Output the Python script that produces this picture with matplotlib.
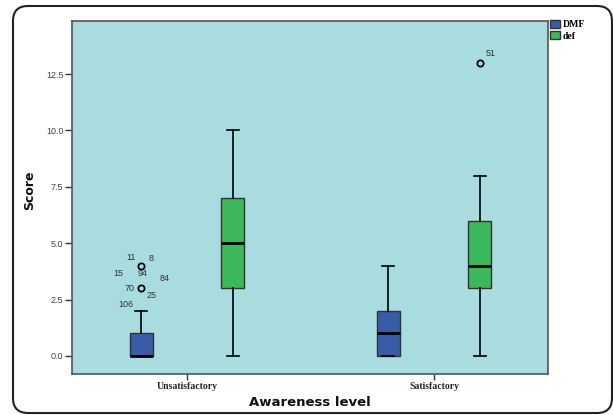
import matplotlib
matplotlib.use("Agg")
import matplotlib.pyplot as plt
from matplotlib.patches import Patch, FancyBboxPatch
from matplotlib.transforms import IdentityTransform

# ---- data ----
categories = ["Unsatisfactory", "Satisfactory"]
series = ["DMF", "def"]
# per series, per category
dmf_whislo = [0, 0]
dmf_q1 = [0, 0]
dmf_med = [0, 1]
dmf_q3 = [1, 2]
dmf_whishi = [2, 4]
dmf_outliers = [[4, 3], []]

def_whislo = [0, 0]
def_q1 = [3, 3]
def_med = [5, 4]
def_q3 = [7, 6]
def_whishi = [10, 8]
def_outliers = [[], [13]]

# outlier case labels: (series, category index, value, label)
outlier_labels = [
    ("DMF", 0, 4, "11"), ("DMF", 0, 4, "8"), ("DMF", 0, 4, "15"),
    ("DMF", 0, 4, "94"), ("DMF", 0, 4, "84"),
    ("DMF", 0, 3, "70"), ("DMF", 0, 3, "25"), ("DMF", 0, 3, "106"),
    ("def", 1, 13, "51"),
]
yticks = [0.0, 2.5, 5.0, 7.5, 10.0, 12.5]

# ---- style ----
bg = "#a8dcdf"
colors = {"DMF": "#3a5ca8", "def": "#3cb85a"}
offset = 0.186
bw = 0.093

fig = plt.figure(figsize=(6.13, 4.15), dpi=100)
ax = fig.add_axes([0.117, 0.0988, 0.777, 0.851])
ax.set_facecolor(bg)

def stats(lo, q1, med, q3, hi, fl):
    return [dict(whislo=a, q1=b, med=c, q3=d, whishi=e, fliers=f)
            for a, b, c, d, e, f in zip(lo, q1, med, q3, hi, fl)]

groups = {
    "DMF": stats(dmf_whislo, dmf_q1, dmf_med, dmf_q3, dmf_whishi, dmf_outliers),
    "def": stats(def_whislo, def_q1, def_med, def_q3, def_whishi, def_outliers),
}
base = list(range(1, len(categories) + 1))
sign = {"DMF": -1, "def": 1}
for s in series:
    pos = [b + sign[s] * offset for b in base]
    ax.bxp(groups[s], positions=pos, widths=bw, patch_artist=True,
           showfliers=True, manage_ticks=False,
           boxprops=dict(facecolor=colors[s], edgecolor="#333333", linewidth=1.0),
           medianprops=dict(color="black", linewidth=2.0),
           whiskerprops=dict(color="black", linewidth=1.2),
           capprops=dict(color="black", linewidth=1.2),
           flierprops=dict(marker="o", markerfacecolor="none",
                           markeredgecolor="black", markersize=4.5,
                           markeredgewidth=1.3))

# label offsets in pixels (dx, dy) relative to the outlier circle
label_offsets = {
    "11": (-10.5, 8), "8": (10, 7.5), "15": (-22.5, -7.7), "94": (2, -8),
    "84": (23.5, -13), "70": (-11.5, 0), "25": (10, -7), "106": (-15.5, -16.5),
    "51": (10.7, 9),
}
for s, ci, val, lab in outlier_labels:
    dx, dy = label_offsets[lab]
    ax.annotate(lab, xy=(base[ci] + sign[s] * offset, val),
                xytext=(dx * 0.72, dy * 0.72), textcoords="offset points",
                ha="center", va="center", fontsize=6.5, color="#333333",
                family="Liberation Sans")

ax.set_xlim(0.533, 2.462)
ax.set_ylim(-0.8, 14.86)
ax.set_xticks(base)
ax.set_xticklabels(categories, family="Liberation Serif", fontweight="bold",
                   fontsize=7, color="#222222")
ax.set_yticks(yticks)
ax.set_yticklabels([f"{v:.1f}" for v in yticks], family="Liberation Sans",
                   fontsize=6.5, color="#444444")
ax.tick_params(axis="y", length=5, width=1, color="#333333", pad=1)
ax.tick_params(axis="x", length=4, width=1, color="#333333", pad=2)
for sp in ax.spines.values():
    sp.set_color("#555555")
    sp.set_linewidth(1.2)

fig.text(30 / 613, 1 - 190 / 415, "Score", rotation=90, ha="center",
         va="center", fontsize=9, fontweight="bold", family="DejaVu Sans",
         color="#111111")
fig.text(309.5 / 613, 1 - 402 / 415, "Awareness level", ha="center",
         va="center", fontsize=9.5, fontweight="bold", family="DejaVu Sans",
         color="#111111")

handles = [Patch(facecolor=colors[s], edgecolor="#333333", label=s) for s in series]
fig.legend(handles=handles, loc="upper left", bbox_to_anchor=(549 / 613, 1 - 19 / 415),
           frameon=False, prop=dict(family="Liberation Serif", weight="bold", size=7),
           handlelength=1.0, handleheight=0.9, handletextpad=0.3,
           labelspacing=0.2, borderpad=0.1, borderaxespad=0)

# rounded frame
frame = FancyBboxPatch((13, 415 - 413), 599, 407,
                       boxstyle="round,pad=0,rounding_size=15",
                       transform=IdentityTransform(), fill=False,
                       edgecolor="#222222", linewidth=1.5)
fig.patches.append(frame)

fig.savefig("out.png", dpi=100)
